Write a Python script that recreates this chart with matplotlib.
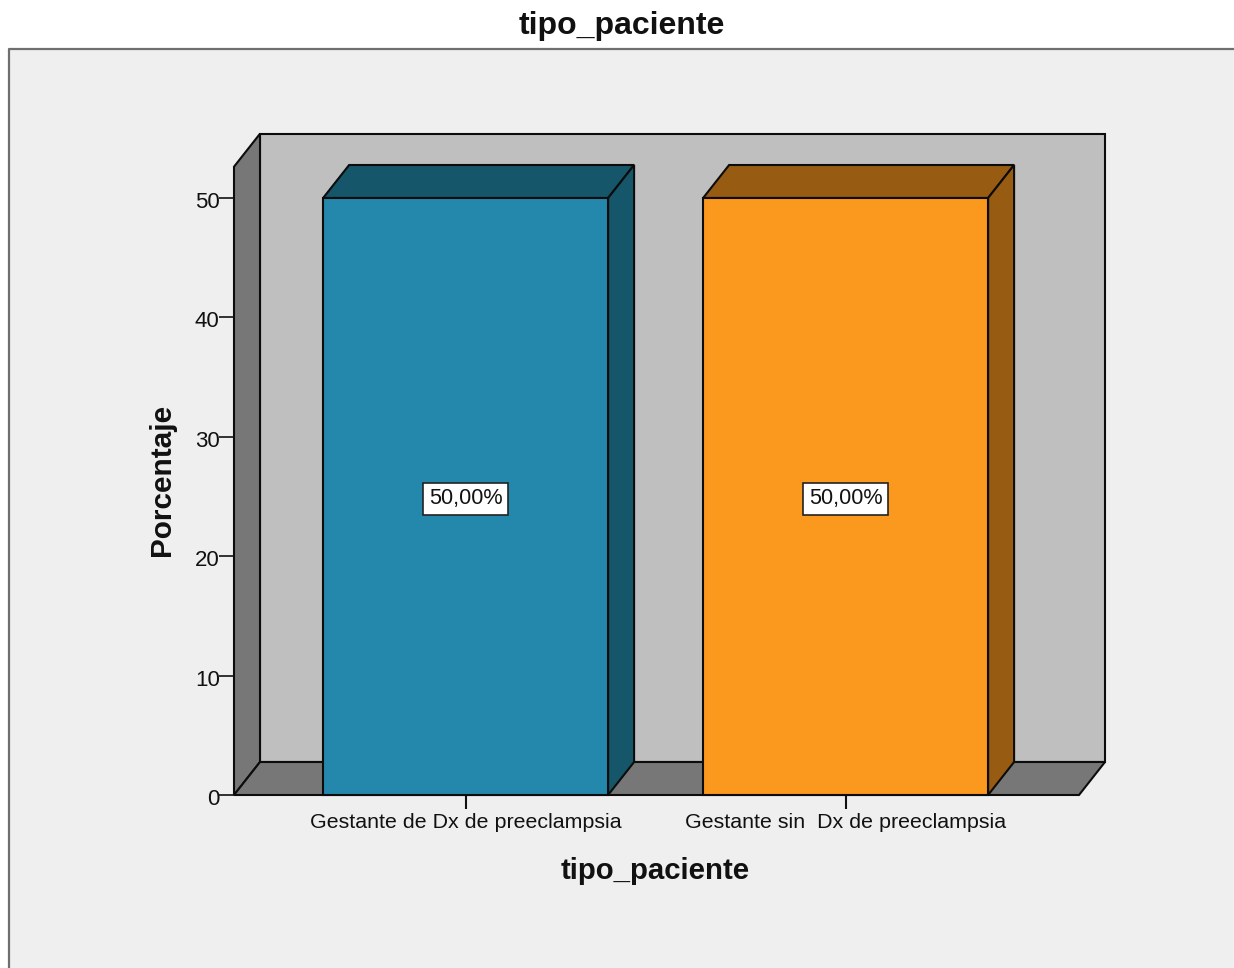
import matplotlib
matplotlib.use("Agg")
import matplotlib.pyplot as plt
from matplotlib.patches import Polygon, Rectangle
from matplotlib.transforms import ScaledTranslation

plt.rcParams['font.family'] = ['Liberation Sans', 'DejaVu Sans']

# Chart data
categories = ["Gestante de Dx de preeclampsia", "Gestante sin  Dx de preeclampsia"]
percentages = [50.0, 50.0]
value_labels = ["50,00%", "50,00%"]
y_ticks = [0, 10, 20, 30, 40, 50]
title = "tipo_paciente"
x_title = "tipo_paciente"
y_title = "Porcentaje"

# Colours
front_colors = ["#2488ad", "#fb981e"]
shade_colors = ["#15566b", "#975b12"]
back_wall = "#bfbfbf"
side_wall = "#777777"
panel_bg = "#efefef"
frame_col = "#6f6f6f"
ink = "#111111"

W, H = 1234, 968
fig = plt.figure(figsize=(W / 100, H / 100), dpi=100, facecolor="white")

# Chart panel with a frame on its top and left edges
fig.add_artist(Rectangle((8 / W, 0), (W - 8) / W, 1 - 48 / H, transform=fig.transFigure,
                         facecolor=panel_bg, edgecolor="none", zorder=-5))
fig.add_artist(plt.Line2D([8.5 / W, 8.5 / W, 1], [0, 1 - 48.5 / H, 1 - 48.5 / H],
                          transform=fig.transFigure, color=frame_col, lw=1.6, zorder=-4))

# Plot area: 234..1079 px wide, baseline at 795 px, value 50 at 198 px
left, right, base_px, top_px = 234, 1079, 795, 198
ax = fig.add_axes([left / W, 1 - base_px / H, (right - left) / W, (base_px - top_px) / H])
ax.patch.set_visible(False)
px_per_cat = 380.0
ax.set_xlim((left - 465.6) / px_per_cat, (right - 465.6) / px_per_cat)
ax.set_ylim(0, 50)
for s in ax.spines.values():
    s.set_visible(False)

px_per_val = (base_px - top_px) / 50.0
depth_x = 26.0 / px_per_cat
depth_y = 33.0 / px_per_val
top_val = 52.62
x0, x1 = ax.get_xlim()
edge = dict(edgecolor="#0c0c0c", linewidth=1.5, joinstyle="miter", clip_on=False)


def face(points, color, z):
    ax.add_patch(Polygon(points, closed=True, facecolor=color, zorder=z, **edge))


# Box walls and floor
face([(x0 + depth_x, depth_y), (x1 + depth_x, depth_y),
      (x1 + depth_x, top_val + depth_y), (x0 + depth_x, top_val + depth_y)], back_wall, 1)
face([(x0, 0), (x0 + depth_x, depth_y), (x0 + depth_x, top_val + depth_y), (x0, top_val)], side_wall, 1.1)
face([(x0, 0), (x1, 0), (x1 + depth_x, depth_y), (x0 + depth_x, depth_y)], side_wall, 1.2)

# Extruded bars
half = 0.375
for i, v in enumerate(percentages):
    a, b = i - half, i + half
    face([(a, v), (b, v), (b + depth_x, v + depth_y), (a + depth_x, v + depth_y)], shade_colors[i], 3)
    face([(b, 0), (b + depth_x, depth_y), (b + depth_x, v + depth_y), (b, v)], shade_colors[i], 3)
    ax.bar(i, v, width=2 * half, color=front_colors[i], edgecolor="#0c0c0c", linewidth=1.5,
           zorder=4, clip_on=False)
    ax.text(i, v / 2, value_labels[i], ha="center", va="center_baseline", fontsize=15.6,
            color=ink, zorder=6,
            bbox=dict(boxstyle="square,pad=0.25", facecolor="white", edgecolor="#222222", linewidth=1.2))

ax.set_yticks(y_ticks)
ax.set_xticks(range(len(categories)))
ax.set_xticklabels(categories)
ax.tick_params(axis="y", length=10.8, width=1.2, color=ink, labelsize=16, labelcolor=ink, pad=-0.5)
ax.tick_params(axis="x", length=10, width=1.5, color=ink, labelsize=15.4, labelcolor=ink, pad=3.2)

# Nudge the value-axis numbers slightly below their ticks
nudge = ScaledTranslation(0, -2 / 100, fig.dpi_scale_trans)
for lab in ax.get_yticklabels():
    lab.set_transform(lab.get_transform() + nudge)

fig.text(622 / W, 1 - 26 / H, title, ha="center", va="center", fontsize=23, fontweight="bold", color=ink)
fig.text(655 / W, 1 - 871 / H, x_title, ha="center", va="center", fontsize=21.2, fontweight="bold", color=ink)
fig.text(162 / W, 1 - 480 / H, y_title, ha="center", va="center", rotation=90, fontsize=21.4,
         fontweight="bold", color=ink)

fig.savefig("out.png", dpi=100, facecolor="white")
